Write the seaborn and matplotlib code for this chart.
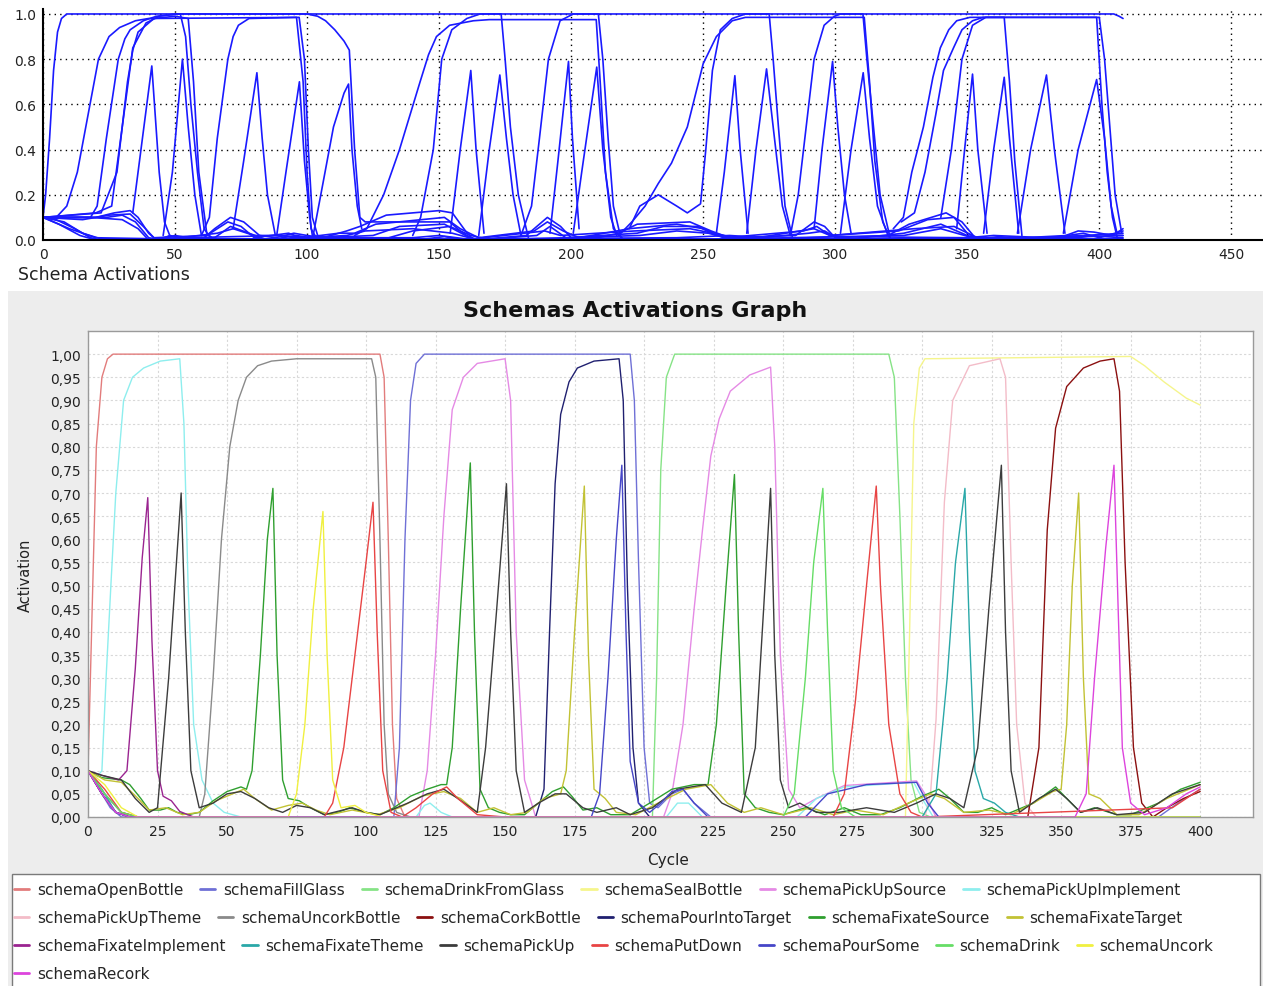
import matplotlib
matplotlib.use('Agg')
import matplotlib.pyplot as plt
from matplotlib.patches import Rectangle
from matplotlib.lines import Line2D
from matplotlib.ticker import FuncFormatter
import seaborn as sns
import pandas as pd

# ---------------- top panel (one run, every schema in blue) ----------------
top_main = [(0, 0.1), (1, 0.2), (2.5, 0.45), (4, 0.75), (5.5, 0.92), (7, 0.98), (9, 1.0),
            (405.5, 1.0), (407.5, 0.99), (409, 0.98)]

top_plateaus = [
    [(0, 0.1), (5, 0.1), (9, 0.15), (13, 0.3), (17, 0.55), (21, 0.8), (25, 0.9), (29, 0.94), (35, 0.97),
     (40, 0.98), (97, 0.985), (99, 0.8), (100.5, 0.4), (102, 0.1), (104, 0.02), (108, 0.0)],
    [(0, 0.1), (18, 0.1), (20.5, 0.15), (24, 0.45), (28.5, 0.8), (31, 0.89), (33, 0.93), (38, 0.97), (43, 0.99),
     (52, 1.0), (54, 0.9), (56, 0.6), (58.5, 0.3), (61, 0.05), (64, 0.0)],
    [(0, 0.1), (22, 0.12), (28, 0.3), (32, 0.7), (34, 0.84), (36, 0.92), (42, 0.98), (50, 0.99), (55, 0.98),
     (57, 0.7), (59, 0.3), (62, 0.03), (65, 0.0)],
    [(0, 0.1), (20, 0.12), (26, 0.15), (30, 0.5), (34, 0.85), (39, 0.96), (44, 0.99), (50, 1.0),
     (100, 1.0), (104, 0.99), (107, 0.97), (110.5, 0.93), (114, 0.88), (116, 0.84), (118, 0.4),
     (120, 0.1), (122, 0.08), (154, 0.08), (158, 0.04), (163, 0.0)],
    [(60, 0.02), (63, 0.1), (66, 0.45), (70, 0.8), (72, 0.9), (74, 0.95), (78, 0.98), (96, 0.985), (98.5, 0.7),
     (100, 0.3), (101.5, 0.05), (104, 0.0)],
    [(118, 0.02), (122.6, 0.05), (129, 0.2), (135, 0.4), (142.8, 0.7), (146, 0.82), (149, 0.9), (154, 0.95),
     (163, 0.97), (169, 0.975), (209.5, 0.975), (211, 0.7), (213, 0.3), (216, 0.05), (220, 0.0)],
    [(140, 0.02), (143, 0.1), (147.8, 0.4), (151, 0.8), (154.8, 0.93), (160.5, 0.98), (165.5, 1.0),
     (173.5, 1.0), (175, 0.8), (177, 0.5), (180, 0.2), (184, 0.0)],
    [(181, 0.02), (185, 0.15), (188, 0.45), (191.4, 0.8), (195.8, 0.97), (200.8, 1.0), (210.3, 1.0),
     (212, 0.8), (214, 0.45), (216, 0.15), (219, 0.0)],
    [(218, 0.02), (223, 0.08), (228, 0.15), (233, 0.25), (238, 0.34), (244, 0.5), (247, 0.64), (250, 0.78),
     (255, 0.9), (261, 0.97), (266, 0.985), (311, 0.985), (313, 0.7), (315, 0.35), (318, 0.08), (321, 0.0)],
    [(222, 0.05), (226, 0.15), (233, 0.2), (240, 0.15), (244, 0.12), (249, 0.16), (251, 0.4),
     (253.5, 0.75), (256.5, 0.93), (261, 0.98), (266, 1.0), (275, 1.0), (276.5, 0.8), (278.5, 0.5),
     (281, 0.15), (284, 0.0)],
    [(283, 0.02), (286, 0.2), (289, 0.5), (292, 0.8), (295.8, 0.95), (299.7, 0.99), (302, 1.0),
     (310.5, 1.0), (312, 0.8), (314.5, 0.5), (317, 0.2), (321, 0.0)],
    [(322, 0.05), (325.8, 0.1), (329, 0.3), (333.4, 0.5), (337, 0.72), (339.8, 0.85), (343, 0.93),
     (346, 0.97), (351, 0.985), (399, 0.985), (401, 0.6), (403, 0.3), (405, 0.1), (407, 0.0)],
    [(325, 0.08), (330, 0.12), (334, 0.3), (338, 0.55), (341, 0.75), (344.8, 0.85), (348, 0.93),
     (352, 0.97), (356, 0.985), (364, 0.985), (366, 0.7), (368, 0.35), (370.7, 0.02)],
    [(340, 0.1), (344, 0.4), (348, 0.8), (352, 0.95), (357, 0.985), (400, 0.985), (402, 0.8),
     (404, 0.5), (406, 0.2), (408.5, 0.03)],
]

top_peaks = [
    [(34, 0.12), (41.2, 0.77), (44, 0.3), (46, 0.08), (48, 0.02)],
    [(45.5, 0.02), (49, 0.3), (52.8, 0.80), (55, 0.5), (57.5, 0.2), (60, 0.02)],
    [(72, 0.05), (76, 0.35), (81, 0.74), (83, 0.45), (85, 0.2), (88, 0.02)],
    [(88.5, 0.02), (92, 0.3), (97.1, 0.70), (99, 0.35), (101, 0.1), (102, 0.02)],
    [(102.3, 0.02), (106, 0.25), (110, 0.5), (114, 0.65), (115.7, 0.69), (117, 0.4), (119, 0.15), (120.7, 0.05)],
    [(154.2, 0.03), (158, 0.4), (162, 0.75), (164, 0.4), (167, 0.03)],
    [(165, 0.02), (169, 0.4), (173, 0.73), (175.5, 0.45), (178, 0.2), (181, 0.02)],
    [(192, 0.03), (195, 0.35), (199, 0.79), (200.5, 0.45), (203, 0.05)],
    [(200.8, 0.03), (204, 0.3), (209.7, 0.765), (212, 0.4), (215, 0.1), (217.3, 0.02)],
    [(255, 0.03), (258, 0.3), (262, 0.727), (264, 0.4), (267, 0.03)],
    [(266.5, 0.03), (270, 0.4), (274, 0.757), (277, 0.45), (280, 0.15), (283, 0.02)],
    [(292, 0.05), (295, 0.4), (299, 0.79), (301, 0.5), (303.5, 0.2), (306, 0.03)],
    [(302, 0.03), (306, 0.4), (310.6, 0.74), (313, 0.45), (316, 0.15), (320, 0.02)],
    [(346, 0.05), (349, 0.4), (352, 0.734), (354, 0.4), (357.5, 0.03)],
    [(356.2, 0.03), (360, 0.4), (364, 0.72), (366, 0.45), (369.5, 0.03)],
    [(369, 0.03), (374, 0.4), (380, 0.73), (383, 0.4), (387, 0.03)],
    [(386.4, 0.03), (392, 0.4), (399, 0.71), (402, 0.45), (404.5, 0.15), (406.7, 0.03)],
]

top_background = [
    [(0, 0.1), (10, 0.1), (20, 0.1), (27, 0.12), (33, 0.13), (36, 0.1), (40, 0.03), (43, 0.0), (60, 0.0),
     (65, 0.05), (71, 0.1), (76, 0.08), (82, 0.02), (88, 0.01), (95, 0.03), (100, 0.02), (106, 0.01),
     (115, 0.04), (120, 0.06), (130, 0.11), (150, 0.13), (155, 0.12), (160, 0.04), (163, 0.0), (183, 0.02),
     (191, 0.1), (196, 0.06), (200, 0.01), (210, 0.01), (218, 0.03), (225, 0.07), (245, 0.08), (253, 0.04),
     (260, 0.01), (285, 0.02), (292, 0.08), (296, 0.06), (300, 0.01), (320, 0.02), (328, 0.07), (342, 0.12),
     (348, 0.08), (353, 0.01), (385, 0.01), (392, 0.04), (398, 0.035), (405, 0.02), (409, 0.05)],
    [(0, 0.1), (15, 0.09), (25, 0.11), (33, 0.115), (38, 0.06), (42, 0.01), (62, 0.02), (70, 0.08),
     (75, 0.06), (80, 0.01), (93, 0.03), (98, 0.01), (112, 0.03), (118, 0.03), (126, 0.07), (152, 0.1),
     (158, 0.05), (165, 0.01), (186, 0.04), (191, 0.08), (197, 0.04), (203, 0.01), (222, 0.05), (240, 0.07),
     (250, 0.05), (258, 0.01), (288, 0.04), (293, 0.06), (298, 0.02), (324, 0.04), (335, 0.09), (345, 0.1),
     (350, 0.03), (355, 0.0), (388, 0.02), (394, 0.03), (400, 0.01), (409, 0.04)],
    [(0, 0.1), (5, 0.09), (12, 0.05), (18, 0.01), (22, 0.0), (65, 0.01), (71, 0.06), (78, 0.03), (85, 0.0),
     (125, 0.02), (135, 0.06), (152, 0.07), (160, 0.02), (165, 0.0), (187, 0.02), (192, 0.06), (198, 0.01),
     (225, 0.03), (235, 0.06), (248, 0.06), (255, 0.02), (262, 0.0), (290, 0.03), (296, 0.04), (302, 0.0),
     (326, 0.03), (340, 0.07), (350, 0.02), (356, 0.0), (409, 0.02)],
    [(0, 0.1), (6, 0.07), (14, 0.02), (20, 0.0), (44, 0.0), (48, 0.02), (52, 0.01), (66, 0.03), (72, 0.05),
     (80, 0.02), (90, 0.02), (100, 0.01), (115, 0.02), (122, 0.04), (140, 0.05), (155, 0.03), (163, 0.005),
     (190, 0.04), (196, 0.02), (224, 0.04), (245, 0.05), (258, 0.02), (265, 0.0), (292, 0.05), (298, 0.02),
     (330, 0.05), (345, 0.06), (352, 0.02), (356, 0.0), (395, 0.02), (409, 0.03)],
    [(0, 0.1), (18, 0.1), (30, 0.09), (36, 0.05), (40, 0.0), (128, 0.0), (140, 0.04), (154, 0.06),
     (162, 0.02), (170, 0.0), (226, 0.02), (240, 0.04), (252, 0.03), (260, 0.005), (326, 0.02), (340, 0.05),
     (352, 0.01), (409, 0.0)],
    [(0, 0.1), (14, 0.1), (24, 0.1), (30, 0.11), (35, 0.08), (40, 0.01), (45, 0.0), (409, 0.0)],
    [(0, 0.1), (8, 0.08), (15, 0.03), (22, 0.005), (409, 0.005)],
    [(0, 0.1), (10, 0.05), (20, 0.01), (45, 0.005), (50, 0.02), (55, 0.01), (90, 0.02), (95, 0.01),
     (140, 0.01), (150, 0.02), (160, 0.005), (240, 0.01), (260, 0.02), (280, 0.005), (300, 0.015),
     (350, 0.01), (360, 0.02), (380, 0.01), (395, 0.02), (409, 0.01)],
    [(40, 0.0), (48, 0.015), (56, 0.005), (88, 0.005), (96, 0.02), (104, 0.005), (145, 0.005), (152, 0.015),
     (160, 0.0), (255, 0.0), (262, 0.015), (270, 0.005), (355, 0.005), (362, 0.015), (372, 0.005),
     (392, 0.01), (400, 0.025), (409, 0.02)],
]

# ---------------- bottom panel (one list of (cycle, activation) per schema) ----------------
schemaOpenBottle = [(0, 0.10), (1.5, 0.45), (3, 0.8), (5, 0.95), (7, 0.99), (9, 1.0), (105, 1.0), (106.5, 0.95),
                    (108, 0.6), (109.5, 0.2), (111, 0.04), (114, 0.0), (400, 0.0)]
schemaFillGlass = [(0, 0.10), (4, 0.06), (8, 0.02), (12, 0.0), (110, 0.0), (112, 0.15), (114, 0.6), (116, 0.9),
                   (118, 0.98), (121, 1.0), (195, 1.0), (196.5, 0.9), (198, 0.55), (200, 0.15), (202, 0.03),
                   (205, 0.02), (210, 0.05), (214, 0.06), (218, 0.03), (224, 0.0), (385, 0.0), (392, 0.03), (400, 0.06)]
schemaDrinkFromGlass = [(0, 0.10), (5, 0.05), (10, 0.01), (15, 0.0), (203, 0.0), (204.5, 0.3), (206, 0.75),
                        (208, 0.95), (211, 1.0), (288, 1.0), (290, 0.95), (292, 0.65), (294, 0.3), (296, 0.08),
                        (299, 0.01), (303, 0.0), (400, 0.0)]
schemaSealBottle = [(0, 0.10), (5, 0.05), (10, 0.01), (15, 0.0), (294, 0.0), (295.5, 0.4), (297, 0.85),
                    (299, 0.97), (301, 0.99), (375, 0.995), (380, 0.975), (387, 0.94), (395, 0.905), (400, 0.89)]
schemaPickUpSource = [(0, 0.10), (6, 0.05), (12, 0.01), (18, 0.0), (119, 0.0), (122, 0.1), (125, 0.35), (128, 0.65),
                      (131, 0.88), (135, 0.95), (140, 0.98), (150, 0.99), (152, 0.9), (154, 0.4), (157, 0.08),
                      (161, 0.0), (207, 0.0), (210, 0.05), (214, 0.2), (218, 0.45), (221, 0.62), (224, 0.78),
                      (227, 0.86), (231, 0.92), (238, 0.955), (245.5, 0.972), (247, 0.8), (249, 0.35), (252, 0.06),
                      (256, 0.02), (262, 0.04), (272, 0.068), (298, 0.078), (301, 0.05), (305, 0.0), (400, 0.0)]
schemaPickUpImplement = [(0, 0.10), (3, 0.085), (5, 0.1), (6.5, 0.3), (8.4, 0.52), (10, 0.7), (12.8, 0.9), (16, 0.95),
                         (20, 0.97), (26, 0.985), (33, 0.99), (34.5, 0.85), (36, 0.5), (38, 0.2), (41, 0.08),
                         (45, 0.03), (49, 0.01), (55, 0.0), (118, 0.0), (121, 0.025), (123, 0.03), (127, 0.01),
                         (131, 0.0), (208, 0.0), (212, 0.03), (216, 0.03), (221, 0.0), (255, 0.0), (262, 0.04),
                         (272, 0.065), (297, 0.075), (300, 0.04), (304, 0.0), (400, 0.0)]
schemaPickUpTheme = [(0, 0.10), (5, 0.05), (10, 0.01), (15, 0.0), (301, 0.0), (303, 0.05), (305, 0.21), (308, 0.68),
                     (311, 0.9), (317, 0.975), (328, 0.99), (330, 0.95), (332, 0.55), (334, 0.2), (337, 0.03),
                     (341, 0.0), (400, 0.0)]
schemaUncorkBottle = [(0, 0.10), (6, 0.05), (12, 0.01), (18, 0.0), (40, 0.0), (42, 0.05), (45, 0.3), (48, 0.6),
                      (51, 0.8), (54, 0.9), (57, 0.95), (61, 0.975), (66, 0.985), (75, 0.99), (102, 0.99),
                      (103.5, 0.95), (105, 0.6), (106.5, 0.2), (108, 0.05), (111, 0.01), (116, 0.0), (400, 0.0)]
schemaCorkBottle = [(0, 0.10), (5, 0.05), (10, 0.01), (15, 0.0), (338, 0.0), (342, 0.15), (345, 0.62), (348, 0.84),
                    (352, 0.93), (358, 0.97), (364, 0.985), (369, 0.99), (371, 0.92), (373, 0.55), (376, 0.15),
                    (379, 0.03), (383, 0.0), (388, 0.02), (394, 0.04), (400, 0.055)]
schemaPourIntoTarget = [(0, 0.10), (5, 0.05), (10, 0.01), (15, 0.0), (161, 0.0), (164, 0.06), (166, 0.4), (168, 0.72),
                        (170, 0.87), (173, 0.94), (176, 0.97), (182, 0.985), (191, 0.99), (192.5, 0.9), (194, 0.5),
                        (196, 0.15), (198, 0.03), (202, 0.0), (400, 0.0)]
schemaFixateSource = [(0, 0.1), (5, 0.085), (12, 0.08), (15, 0.07), (19, 0.04), (22, 0.015), (26, 0.015), (29, 0.02),
                      (32, 0.01), (36, 0.005), (40, 0.01), (45, 0.035), (50, 0.055), (55, 0.065), (57, 0.06),
                      (59, 0.1), (62, 0.35), (64.5, 0.6), (66.5, 0.71), (68, 0.35), (70, 0.08), (72, 0.04),
                      (76, 0.035), (80, 0.02), (85, 0.005), (90, 0.01), (94, 0.02), (100, 0.01), (105, 0.005),
                      (110, 0.02), (116, 0.045), (122, 0.06), (127, 0.07), (129, 0.07), (131, 0.15), (134, 0.45),
                      (137.5, 0.765), (139, 0.4), (141, 0.06), (144, 0.02), (148, 0.01), (152, 0.005), (157, 0.005),
                      (162, 0.03), (167, 0.055), (171, 0.065), (174, 0.045), (178, 0.015), (183, 0.02), (188, 0.005),
                      (195, 0.005), (202, 0.03), (210, 0.06), (218, 0.07), (223, 0.07), (226, 0.2), (229.5, 0.5),
                      (232.5, 0.74), (234, 0.4), (236, 0.05), (240, 0.02), (245, 0.01), (250, 0.005), (258, 0.02),
                      (265, 0.005), (272, 0.02), (278, 0.005), (285, 0.005), (292, 0.02), (300, 0.045), (306, 0.06),
                      (310, 0.04), (315, 0.01), (320, 0.01), (325, 0.02), (330, 0.005), (340, 0.03), (348, 0.065),
                      (352, 0.04), (357, 0.01), (362, 0.02), (370, 0.005), (375, 0.005), (385, 0.03), (393, 0.06),
                      (400, 0.075)]
schemaFixateTarget = [(0, 0.1), (6, 0.08), (12, 0.075), (18, 0.04), (22, 0.015), (28, 0.02), (34, 0.005), (40, 0.01),
                      (46, 0.035), (52, 0.05), (56, 0.06), (60, 0.04), (66, 0.015), (72, 0.025), (77, 0.03),
                      (82, 0.015), (87, 0.005), (95, 0.015), (104, 0.005), (112, 0.02), (120, 0.045), (128, 0.055),
                      (134, 0.04), (140, 0.01), (146, 0.02), (152, 0.005), (158, 0.01), (164, 0.04), (170, 0.05),
                      (172, 0.1), (175, 0.4), (178.5, 0.715), (180, 0.35), (182, 0.06), (186, 0.04), (190, 0.01),
                      (197, 0.005), (205, 0.03), (215, 0.06), (224, 0.07), (230, 0.03), (236, 0.01), (242, 0.02),
                      (250, 0.005), (260, 0.02), (268, 0.005), (276, 0.015), (286, 0.005), (295, 0.03), (303, 0.05),
                      (308, 0.04), (315, 0.01), (324, 0.015), (332, 0.005), (340, 0.03), (347, 0.055), (350, 0.06),
                      (352, 0.2), (354, 0.5), (356.3, 0.70), (358, 0.3), (360, 0.05), (364, 0.04), (370, 0.005),
                      (378, 0.005), (388, 0.04), (400, 0.07)]
schemaFixateImplement = [(0, 0.10), (5, 0.09), (11, 0.08), (14, 0.1), (17, 0.32), (19.5, 0.56), (21.5, 0.69),
                         (23, 0.38), (25, 0.1), (27, 0.045), (30, 0.035), (33, 0.012), (38, 0.0), (400, 0.0)]
schemaFixateTheme = [(0, 0.1), (5, 0.06), (10, 0.01), (15, 0.0), (300, 0.0), (305, 0.05), (309, 0.3), (312, 0.55),
                     (315.4, 0.71), (317, 0.4), (319, 0.1), (322, 0.04), (326, 0.03), (330, 0.01), (335, 0.0), (400, 0.0)]
schemaPickUp = [(0, 0.1), (5, 0.09), (12, 0.08), (17, 0.04), (22, 0.01), (25, 0.02), (29, 0.3), (33.5, 0.70),
                (35, 0.4), (37, 0.1), (40, 0.02), (45, 0.03), (50, 0.05), (55, 0.055), (60, 0.04), (65, 0.02),
                (70, 0.01), (75, 0.025), (80, 0.02), (85, 0.005), (95, 0.02), (100, 0.01), (105, 0.005), (115, 0.03),
                (122, 0.05), (128, 0.06), (133, 0.04), (140, 0.01), (143, 0.15), (147, 0.45), (150.5, 0.72),
                (152, 0.4), (154, 0.1), (157, 0.01), (162, 0.03), (168, 0.05), (172, 0.05), (178, 0.02), (183, 0.01),
                (190, 0.02), (195, 0.005), (203, 0.02), (212, 0.06), (222, 0.07), (228, 0.03), (235, 0.01),
                (240, 0.15), (243, 0.45), (245.5, 0.71), (247, 0.35), (249, 0.08), (252, 0.02), (256, 0.03),
                (262, 0.01), (270, 0.01), (280, 0.02), (290, 0.01), (298, 0.03), (305, 0.05), (310, 0.04),
                (315, 0.02), (320, 0.15), (324, 0.45), (328.5, 0.76), (330, 0.4), (332, 0.1), (335, 0.01),
                (342, 0.04), (348, 0.06), (352, 0.04), (357, 0.01), (363, 0.02), (370, 0.005), (380, 0.01),
                (390, 0.05), (400, 0.07)]
schemaPutDown = [(0, 0.1), (6, 0.06), (12, 0.01), (18, 0.0), (85, 0.0), (88, 0.03), (92, 0.15), (96, 0.35),
                 (100, 0.55), (102.5, 0.68), (104, 0.4), (106, 0.1), (109, 0.01), (113, 0.0), (118, 0.02),
                 (124, 0.05), (129, 0.065), (133, 0.04), (140, 0.005), (150, 0.0), (268, 0.0), (272, 0.05),
                 (276, 0.25), (280, 0.5), (283.5, 0.715), (285, 0.5), (288, 0.2), (292, 0.05), (296, 0.01),
                 (300, 0.0), (390, 0.02), (400, 0.06)]
schemaPourSome = [(0, 0.10), (5, 0.05), (10, 0.01), (15, 0.0), (181, 0.0), (184, 0.05), (187, 0.3), (190, 0.6),
                  (192, 0.76), (193.5, 0.4), (195, 0.12), (198, 0.03), (202, 0.01), (206, 0.03), (210, 0.055),
                  (214, 0.06), (218, 0.03), (223, 0.0), (258, 0.0), (266, 0.05), (280, 0.07), (298, 0.075),
                  (302, 0.03), (306, 0.0), (400, 0.0)]
schemaDrink = [(0, 0.1), (6, 0.05), (12, 0.01), (18, 0.0), (250, 0.0), (254, 0.05), (258, 0.3), (261, 0.55),
               (264.3, 0.71), (266, 0.4), (268, 0.1), (271, 0.02), (276, 0.0), (400, 0.0)]
schemaUncork = [(0, 0.1), (6, 0.07), (12, 0.02), (18, 0.0), (72, 0.0), (75, 0.05), (78, 0.2), (81, 0.45),
                (84.5, 0.66), (86, 0.35), (88, 0.08), (91, 0.02), (96, 0.025), (100, 0.01), (106, 0.0), (400, 0.0)]
schemaRecork = [(0, 0.1), (5, 0.05), (10, 0.01), (15, 0.0), (355, 0.0), (359, 0.05), (362, 0.3), (366, 0.58),
                (369, 0.76), (370.5, 0.45), (372, 0.15), (375, 0.03), (380, 0.005), (388, 0.02), (395, 0.05),
                (400, 0.065)]

schema_names = ['schemaOpenBottle', 'schemaFillGlass', 'schemaDrinkFromGlass', 'schemaSealBottle',
                'schemaPickUpSource', 'schemaPickUpImplement', 'schemaPickUpTheme', 'schemaUncorkBottle',
                'schemaCorkBottle', 'schemaPourIntoTarget', 'schemaFixateSource', 'schemaFixateTarget',
                'schemaFixateImplement', 'schemaFixateTheme', 'schemaPickUp', 'schemaPutDown',
                'schemaPourSome', 'schemaDrink', 'schemaUncork', 'schemaRecork']
schema_colors = ['#e27c7c', '#6f70d6', '#86e386', '#f5f58c', '#e58ae5', '#8eeeee', '#f3bcc8', '#8a8a8a',
                 '#8b1010', '#202070', '#2f9f2f', '#c2c234', '#9a2490', '#2aa8a8', '#3c3c3c', '#e84444',
                 '#4646c8', '#66dd66', '#f0f040', '#dd44dd']
schema_series = [schemaOpenBottle, schemaFillGlass, schemaDrinkFromGlass, schemaSealBottle, schemaPickUpSource,
                 schemaPickUpImplement, schemaPickUpTheme, schemaUncorkBottle, schemaCorkBottle,
                 schemaPourIntoTarget, schemaFixateSource, schemaFixateTarget, schemaFixateImplement,
                 schemaFixateTheme, schemaPickUp, schemaPutDown, schemaPourSome, schemaDrink, schemaUncork,
                 schemaRecork]
legend_rows = [6, 6, 7, 1]

# ---------------- long-form tables ----------------
rows = []
for i, curve in enumerate([top_main] + top_plateaus + top_peaks + top_background):
    for x, y in curve:
        rows.append((i, x, y))
top_df = pd.DataFrame(rows, columns=['curve', 'cycle', 'activation'])

rows = []
for name, pts in zip(schema_names, schema_series):
    for x, y in pts:
        rows.append((name, x, y))
bot_df = pd.DataFrame(rows, columns=['schema', 'cycle', 'activation'])

sns.set_style('white')
plt.rcParams['font.family'] = ['DejaVu Sans']

W, H = 1263, 987
fig = plt.figure(figsize=(W / 100, H / 100), dpi=100)
fig.patch.set_facecolor('white')

# grey panel behind the lower chart
fig.add_artist(Rectangle((8 / W, 0), 1 - 8 / W, 1 - 292 / H, transform=fig.transFigure,
                         facecolor='#ededed', edgecolor='none', zorder=0))

# ---------------- top chart ----------------
ax1 = fig.add_axes([43 / W, 1 - 241 / H, (W - 43) / W, 231 / H])
sns.lineplot(data=top_df, x='cycle', y='activation', units='curve', estimator=None, sort=False,
             color='#1a1aff', linewidth=1.2, ax=ax1)
ax1.set_xlim(0, 462)
ax1.set_ylim(0, 1.022)
ax1.set_xticks(range(0, 451, 50))
ax1.set_yticks([0.0, 0.2, 0.4, 0.6, 0.8, 1.0])
ax1.yaxis.set_major_formatter(FuncFormatter(lambda v, p: f'{v:.1f}'))
ax1.grid(True, color='black', linestyle=(0, (1, 3)), linewidth=1.0)
for s in ['top', 'right']:
    ax1.spines[s].set_visible(False)
for s in ['left', 'bottom']:
    ax1.spines[s].set_color('black')
    ax1.spines[s].set_linewidth(1.5)
ax1.tick_params(axis='both', length=0, labelsize=10, pad=5, colors='#222222')
ax1.set_xlabel('')
ax1.set_ylabel('')
fig.text(18 / W, 1 - 275 / H, 'Schema Activations', ha='left', va='center', fontsize=12.5, color='#222222')

# ---------------- bottom chart ----------------
ax2 = fig.add_axes([88 / W, 1 - 818 / H, (1253 - 88) / W, (818 - 332) / H])
ax2.set_facecolor('white')
sns.lineplot(data=bot_df, x='cycle', y='activation', hue='schema', hue_order=schema_names,
             palette=schema_colors, estimator=None, sort=False, linewidth=1.0, legend=False, ax=ax2)
ax2.set_xlim(0, 419)
ax2.set_ylim(0, 1.05)
ax2.set_xticks(range(0, 401, 25))
ax2.set_yticks([i * 0.05 for i in range(21)])
ax2.yaxis.set_major_formatter(FuncFormatter(lambda v, p: f'{v:.2f}'.replace('.', ',')))
ax2.grid(True, color='#d8d8d8', linestyle=(0, (2, 2)), linewidth=0.8)
for s in ax2.spines.values():
    s.set_color('#9a9a9a')
    s.set_linewidth(1.0)
ax2.tick_params(axis='both', length=2, color='#9a9a9a', labelsize=10, pad=3, labelcolor='#222222')
ax2.set_xlabel('Cycle', fontsize=11, color='#222222')
ax2.set_ylabel('Activation', fontsize=10.5, color='#222222')
ax2.xaxis.set_label_coords((668 - 88) / 1165, -(853 - 818) / 486)
ax2.yaxis.set_label_coords(-(88 - 33) / 1165, 0.5)
fig.text(635 / W, 1 - 311 / H, 'Schemas Activations Graph', ha='center', va='center',
         fontsize=16, fontweight='bold', color='#111111')

# ---------------- legend box, flowing rows ----------------
fig.add_artist(Rectangle((12 / W, -0.01), (1260 - 12) / W, 0.01 + 1 - 875 / H, transform=fig.transFigure,
                         facecolor='white', edgecolor='#7a7a7a', linewidth=1.0, zorder=1))
handles = [Line2D([0], [0], color=c, lw=2) for c in schema_colors]
start = 0
for r, n in enumerate(legend_rows):
    ypx = 891 + 28 * r
    fig.legend(handles[start:start + n], schema_names[start:start + n], loc='center left',
               bbox_to_anchor=(14 / W, 1 - ypx / H), ncol=n, frameon=False, fontsize=11,
               handlelength=1.0, handletextpad=0.5, columnspacing=1.1, borderaxespad=0, borderpad=0)
    start += n

fig.savefig('out.png', dpi=100)
